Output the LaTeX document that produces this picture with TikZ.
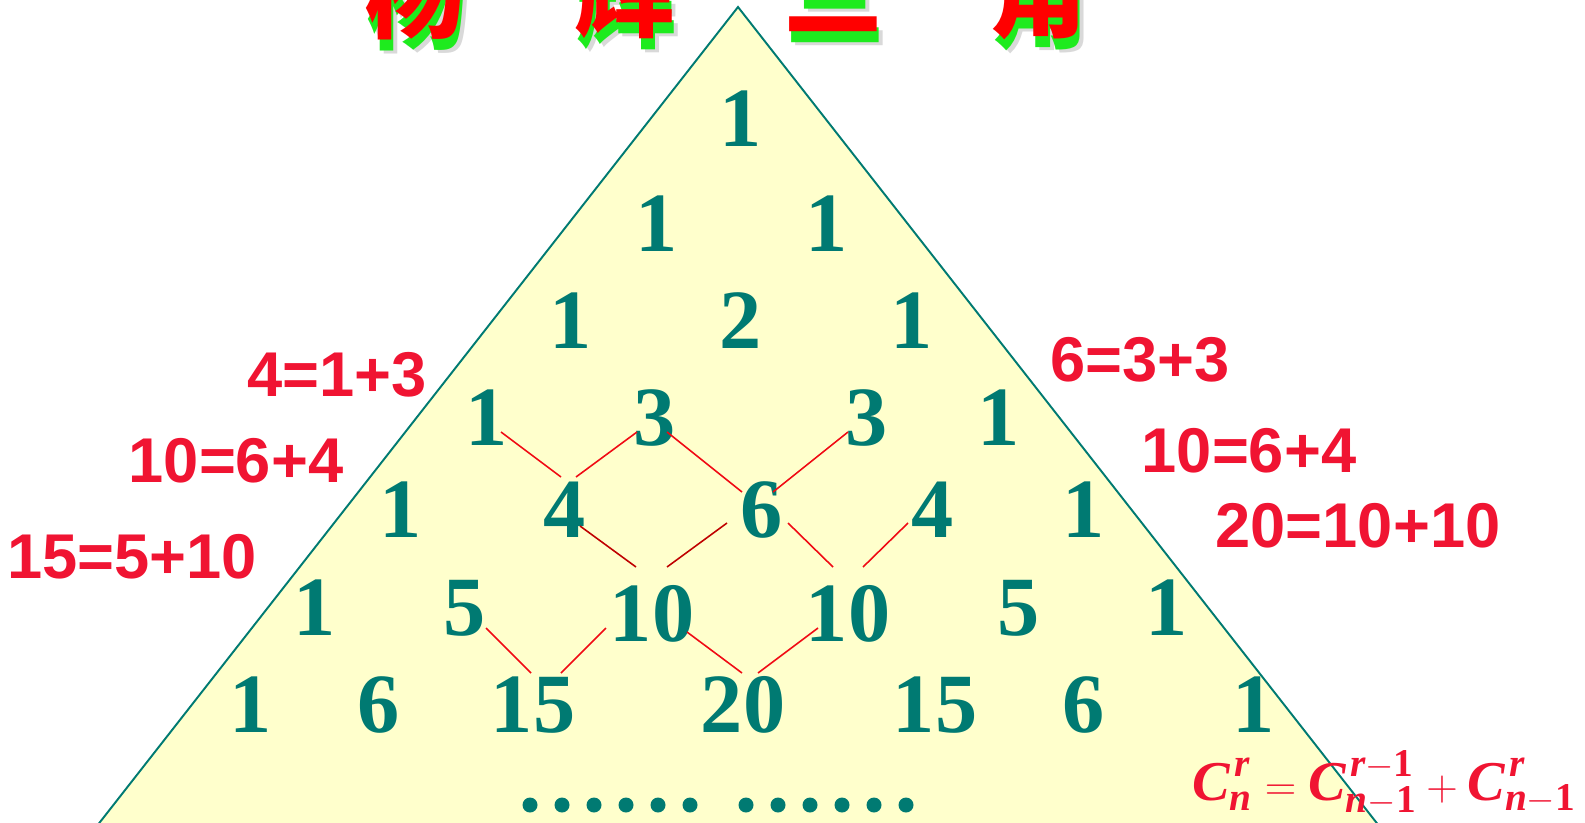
\documentclass[tikz,border=0pt]{standalone}
\usepackage{amsmath}
\usepackage{fontspec}
\setmainfont{Liberation Serif}
\newfontfamily\eqfont{Liberation Sans}
\newfontfamily\cjkfont{Noto Sans CJK SC}
\usetikzlibrary{calc}
\definecolor{tealnum}{RGB}{0,122,114}
\definecolor{trifill}{RGB}{255,255,204}
\definecolor{eqred}{RGB}{240,20,50}
\definecolor{linkred}{RGB}{240,10,20}
\definecolor{titlered}{RGB}{255,0,0}
\definecolor{titlegreen}{RGB}{30,235,30}
\newcommand\bi[1]{\text{\bfseries\itshape #1}}
\newcommand\bone{\text{\bfseries 1}}
\newcommand\bC{{\bi{C}}}

\begin{document}
\begin{tikzpicture}[x=0.02cm, y=-0.02cm,
  num/.style={text=tealnum, inner sep=0pt, font=\fontsize{48}{48}\selectfont\bfseries},
  sum/.style={text=eqred, inner sep=0pt, font=\fontsize{36}{36}\selectfont\eqfont\bfseries},
  link/.style={draw=linkred, line width=0.9pt},
  ttl/.style={inner sep=0pt, font=\fontsize{57}{57}\selectfont\cjkfont\bfseries},
]
\useasboundingbox (0,0) rectangle (1585,822);
\clip (0,0) rectangle (1585,822);

\filldraw[fill=trifill, draw=tealnum, line width=1.1pt] (738,7) -- (39,900) -- (1437,900) -- cycle;

% title
\foreach \ch/\x in {杨/415, 辉/625, 三/834, 角/1038} {
  \node[ttl, text=black!25, opacity=0.6] (ts\x) at (\x+6,6) {\ch};
  \node[ttl, text=titlegreen] (tg\x) at (\x+2,3) {\ch};
  \node[ttl, text=titlered] (tr\x) at (\x,-8) {\ch};
}

% the rows
\node[num] (n00) at (741,119) {1};
\node[num] (n10) at (657,224) {1};
\node[num] (n11) at (827,224) {1};
\node[num] (n20) at (571,321) {1};
\node[num] (n21) at (741,321) {2};
\node[num] (n22) at (912,321) {1};
\node[num] (n30) at (487,418) {1};
\node[num] (n31) at (655,418) {3};
\node[num] (n32) at (867,418) {3};
\node[num] (n33) at (999,418) {1};
\node[num] (n40) at (401,510) {1};
\node[num] (n41) at (565,510) {4};
\node[num] (n42) at (762,510) {6};
\node[num] (n43) at (933,510) {4};
\node[num] (n44) at (1084,510) {1};
\node[num] (n50) at (315,608) {1};
\node[num] (n51) at (465,608) {5};
\node[num] (n52) at (652,614) {10};
\node[num] (n53) at (848,614) {10};
\node[num] (n54) at (1019,608) {5};
\node[num] (n55) at (1167,608) {1};
\node[num] (n60) at (251,705) {1};
\node[num] (n61) at (379,705) {6};
\node[num] (n62) at (533,705) {15};
\node[num] (n63) at (743,705) {20};
\node[num] (n64) at (935,705) {15};
\node[num] (n65) at (1084,705) {6};
\node[num] (n66) at (1254,705) {1};

\foreach \x in {530,562,...,690,746,778,...,906}
  \fill[tealnum] (\x,805) circle[radius=0.15cm];

% sums
\draw[link] ([shift={(14,14)}]n30.center) -- ([shift={(-4,-33)}]n41.center);
\draw[link] ([shift={(-18,14)}]n31.center) -- ([shift={(11,-33)}]n41.center);
\draw[link] ([shift={(12,14)}]n31.center) -- ([shift={(-20,-18)}]n42.center);
\draw[link] ([shift={(-19,14)}]n32.center) -- ([shift={(11,-18)}]n42.center);
\draw[link, draw=red!75!black] ([shift={(15,16)}]n41.center) -- ([shift={(-16,-47)}]n52.center);
\draw[link, draw=red!75!black] ([shift={(-35,13)}]n42.center) -- ([shift={(15,-47)}]n52.center);
\draw[link] ([shift={(26,13)}]n42.center) -- ([shift={(-15,-47)}]n53.center);
\draw[link] ([shift={(-25,13)}]n43.center) -- ([shift={(15,-47)}]n53.center);
\draw[link] ([shift={(21,20)}]n51.center) -- ([shift={(-2,-32)}]n62.center);
\draw[link] ([shift={(-46,14)}]n52.center) -- ([shift={(28,-32)}]n62.center);
\draw[link] ([shift={(35,18)}]n52.center) -- ([shift={(-1,-32)}]n63.center);
\draw[link] ([shift={(-30,14)}]n53.center) -- ([shift={(15,-32)}]n63.center);

\node[sum] (l1) at (337,375) {4=1+3};
\node[sum] (l2) at (236,461) {10=6+4};
\node[sum] (l3) at (132,557) {15=5+10};
\node[sum] (r1) at (1140,360) {6=3+3};
\node[sum] (r2) at (1249,451) {10=6+4};
\node[sum] (r3) at (1358,526) {20=10+10};

\node[anchor=base west, inner sep=0pt, text=eqred, font=\fontsize{32}{32}\selectfont] (rule) at (1192,800)
  {$\bC^{\kern2.5pt\bi{r}}_{\bi{n}} = \bC^{\kern2.5pt\bi{r}-\bone}_{\bi{n}-\bone} + \bC^{\kern2.5pt\bi{r}}_{\bi{n}-\bone}$};
\end{tikzpicture}
\end{document}
